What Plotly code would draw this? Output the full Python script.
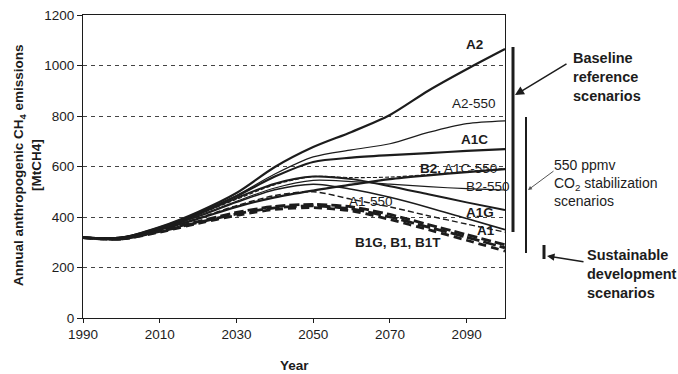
import plotly.graph_objects as go

years = [1990, 2000, 2010, 2020, 2030, 2040, 2050, 2060, 2070, 2080, 2090, 2100]

a2      = [318, 318, 360, 420, 495, 598, 677, 737, 804, 900, 985, 1065]
a2_550  = [318, 318, 358, 415, 485, 570, 638, 666, 690, 735, 770, 781]
a1c     = [318, 318, 358, 415, 482, 560, 618, 635, 645, 653, 662, 669]
a1c_550 = [318, 318, 355, 410, 470, 528, 560, 556, 558, 568, 580, 592]
b2      = [318, 318, 350, 393, 440, 478, 505, 528, 550, 565, 578, 590]
b2_550  = [318, 318, 352, 405, 462, 515, 545, 540, 530, 520, 512, 507]
a1g     = [318, 318, 355, 410, 475, 532, 560, 550, 522, 490, 458, 428]
a1      = [318, 318, 352, 402, 458, 508, 530, 510, 478, 438, 394, 350]
a1_550  = [318, 318, 350, 395, 445, 485, 500, 470, 440, 405, 372, 340]
b1g     = [318, 313, 345, 382, 418, 442, 450, 440, 410, 370, 330, 290]
b1      = [318, 313, 343, 378, 412, 436, 444, 432, 400, 360, 320, 278]
b1t     = [318, 313, 340, 375, 406, 430, 437, 424, 390, 350, 308, 265]

series = [
    ("A2", a2, 2.2, "solid"),
    ("A2-550", a2_550, 1.2, "solid"),
    ("A1C", a1c, 2.2, "solid"),
    ("A1C-550", a1c_550, 1.1, "4px,2px"),
    ("B2", b2, 2.2, "solid"),
    ("B2-550", b2_550, 1.2, "solid"),
    ("A1G", a1g, 2.0, "solid"),
    ("A1", a1, 1.6, "solid"),
    ("A1-550", a1_550, 1.4, "6px,3px"),
    ("B1G", b1g, 2.8, "10px,4px"),
    ("B1", b1, 2.8, "13px,4px"),
    ("B1T", b1t, 2.8, "8px,5px"),
]

ink = "#1c1c1c"
fig = go.Figure()
for name, vals, w, dash in series:
    fig.add_trace(go.Scatter(x=years, y=vals, mode="lines", name=name,
                             line=dict(color=ink, width=w, dash=dash, shape="spline", smoothing=0.8),
                             showlegend=False, hoverinfo="x+y+name"))

font = "Liberation Sans, Arial, sans-serif"

# in-plot labels (data coords)
labels = [
    ("<b>A2</b>", 2092, 1085),
    ("A2-550", 2092, 851),
    ("<b>A1C</b>", 2092, 707),
    ("<b>B2,</b> A1C-550", 2088, 594),
    ("B2-550", 2095.5, 519),
    ("<b>A1G</b>", 2093.5, 416),
    ("<b>A1</b>", 2095, 348),
    ("A1-550", 2065, 463),
    ("<b>B1G, B1, B1T</b>", 2072, 299),
]
for t, x, y in labels:
    fig.add_annotation(x=x, y=y, xref="x", yref="y", text=t, showarrow=False,
                       font=dict(family=font, size=13.5, color=ink))

# pixel -> paper helpers
L, R, T, B = 83, 505, 15, 318
def px(x):
    return (x - L) / (R - L)
def py(y):
    return (B - y) / (B - T)

# right-side bracket bars
fig.add_shape(type="line", xref="paper", yref="paper", x0=px(513), x1=px(513), y0=py(47), y1=py(232),
              line=dict(color=ink, width=3))
fig.add_shape(type="line", xref="paper", yref="paper", x0=px(526), x1=px(526), y0=py(117), y1=py(253),
              line=dict(color=ink, width=2))
fig.add_shape(type="line", xref="paper", yref="paper", x0=px(544), x1=px(544), y0=py(245), y1=py(259),
              line=dict(color=ink, width=3))

def arrow(tip, tail, w, size, color):
    fig.add_annotation(xref="paper", yref="paper", x=px(tip[0]), y=py(tip[1]),
                       ax=tail[0] - tip[0], ay=tail[1] - tip[1], axref="pixel", ayref="pixel",
                       text="", showarrow=True, arrowhead=2, arrowsize=size,
                       arrowwidth=w, arrowcolor=color)

arrow((515, 95), (568, 63), 1.5, 1.2, ink)
arrow((528, 190), (555, 170), 1.0, 0.8, "#555")
arrow((547, 256), (585, 262), 1.5, 1.0, ink)

fig.add_annotation(xref="paper", yref="paper", x=px(571), y=py(77), xanchor="left", yanchor="middle",
                   text="<b>Baseline<br>reference<br>scenarios</b>", showarrow=False, align="left",
                   font=dict(family=font, size=14.5, color=ink))
fig.add_annotation(xref="paper", yref="paper", x=px(552), y=py(183), xanchor="left", yanchor="middle",
                   text="550 ppmv<br>CO<sub>2</sub> stabilization<br>scenarios", showarrow=False, align="left",
                   font=dict(family=font, size=14, color=ink))
fig.add_annotation(xref="paper", yref="paper", x=px(585), y=py(274), xanchor="left", yanchor="middle",
                   text="<b>Sustainable<br>development<br>scenarios</b>", showarrow=False, align="left",
                   font=dict(family=font, size=14.5, color=ink))

# axis titles
fig.add_annotation(xref="paper", yref="paper", x=px(27), y=py(165), xanchor="center", yanchor="middle",
                   textangle=-90, showarrow=False,
                   text="<b>Annual anthropogenic CH<sub>4</sub> emissions<br>[MtCH4]</b>",
                   font=dict(family=font, size=13.5, color=ink))
fig.add_annotation(xref="paper", yref="paper", x=px(294), y=py(365), xanchor="center", yanchor="middle",
                   showarrow=False, text="<b>Year</b>",
                   font=dict(family=font, size=13.5, color=ink))

fig.update_layout(
    width=678, height=374,
    margin=dict(l=L, r=678 - R, t=T, b=374 - B),
    plot_bgcolor="white", paper_bgcolor="white",
    font=dict(family=font, size=13.5, color=ink),
    xaxis=dict(range=[1990, 2100], tickvals=[1990, 2010, 2030, 2050, 2070, 2090],
               showgrid=False, zeroline=False, showline=True, linecolor=ink, linewidth=1,
               mirror=True, ticks="outside", ticklen=4, tickcolor=ink, automargin=False),
    yaxis=dict(range=[0, 1200], tickvals=[0, 200, 400, 600, 800, 1000, 1200],
               showgrid=True, gridcolor="#444", griddash="4px,4px", gridwidth=1,
               zeroline=False, showline=True, linecolor=ink, linewidth=1, mirror=True,
               ticks="outside", ticklen=5, tickcolor=ink, automargin=False),
)

fig.write_html("out.html", config={"displayModeBar": False},
               post_script="document.body.style.margin='0';document.body.style.overflow='hidden';")
